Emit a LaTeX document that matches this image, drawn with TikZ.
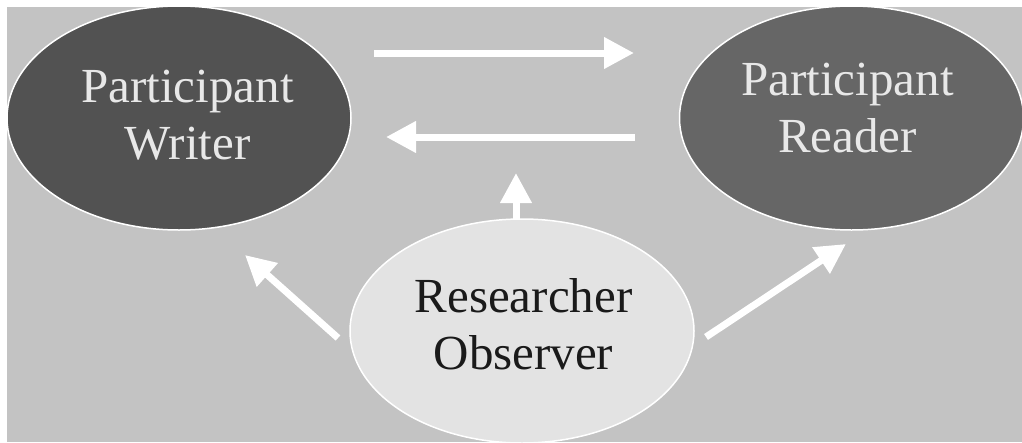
\documentclass[tikz,border=0pt]{standalone}
\usepackage{fontspec}
\setmainfont{Liberation Serif}
\usetikzlibrary{arrows.meta,shapes.geometric,calc}
\definecolor{bggray}{HTML}{C3C3C3}
\definecolor{darkfill}{HTML}{525252}
\definecolor{midfill}{HTML}{666666}
\definecolor{lightfill}{HTML}{E3E3E3}
\definecolor{lighttext}{HTML}{E8E8E8}
\definecolor{darktext}{HTML}{1A1A1A}
\tikzset{
  oval/.style={ellipse, draw=white, line width=1.5pt, minimum width=344pt, minimum height=224pt, inner sep=0pt, outer sep=0pt},
  lbl/.style={align=center, inner sep=0pt, font=\fontsize{49}{57}\selectfont},
  flow/.style={draw=white, line width=7pt, line cap=butt, -{Triangle[length=30pt,width=30pt]}}
}
\begin{document}
\begin{tikzpicture}[x=1pt,y=-1pt]
\useasboundingbox (0,0) rectangle (1022,442);
\fill[white] (0,0) rectangle (1022,442);
\fill[bggray] (7,7) rectangle (1022,442);
% ellipses
\node[oval, fill=darkfill] (w) at (179,118) {};
\node[oval, fill=midfill] (r) at (851.5,118) {};
\node[oval, fill=lightfill] (o) at (522,331) {};
% labels
\node[lbl, text=lighttext] (wt) at ($(w.center)+(8.5,-3.2)$) {Participant\\Writer};
\node[lbl, text=lighttext] (rt) at ($(r.center)+(-4,-9.7)$) {Participant\\Reader};
\node[lbl, text=darktext] (ot) at ($(o.center)+(1.5,-6.7)$) {Researcher\\Observer};
% arrow ends
\coordinate (a1s) at (374,53);
\coordinate (a1e) at (634,53);
\coordinate (a2s) at (635,137);
\coordinate (a2e) at (386,137);
\coordinate (a3s) at (516,219);
\coordinate (a3e) at (516,173);
\coordinate (a4s) at (338,338);
\coordinate (a4e) at (245,255);
\coordinate (a5s) at (706,337);
\coordinate (a5e) at (846,244);
\draw[flow] (a1s) -- (a1e);
\draw[flow] (a2s) -- (a2e);
\draw[flow] (a3s) -- (a3e);
\draw[flow] (a4s) -- (a4e);
\draw[flow] (a5s) -- (a5e);
\end{tikzpicture}
\end{document}
